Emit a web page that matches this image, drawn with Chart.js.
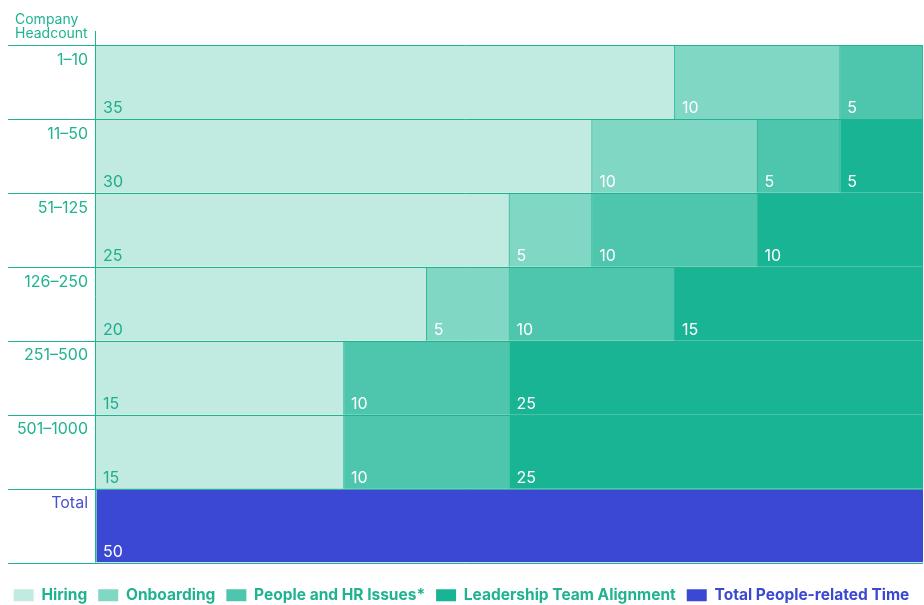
<!DOCTYPE html>
<html>
<head>
<meta charset="utf-8">
<script src="https://cdn.jsdelivr.net/npm/chart.js@4"></script>
<style>
html,body{margin:0;padding:0;background:#fff;}
#wrap{width:924px;height:605px;position:relative;}
</style>
</head>
<body>
<div id="wrap"><canvas id="c"></canvas></div>
<script>
const categories = ['1–10', '11–50', '51–125', '126–250', '251–500', '501–1000', 'Total'];
const seriesNames = ['Hiring', 'Onboarding', 'People and HR Issues*', 'Leadership Team Alignment', 'Total People-related Time'];
const hiring      = [35, 30, 25, 20, 15, 15, 0];
const onboarding  = [10, 10, 5, 5, 0, 0, 0];
const peopleHR    = [5, 5, 10, 10, 10, 10, 0];
const leadership  = [0, 5, 10, 15, 25, 25, 0];
const totalTime   = [0, 0, 0, 0, 0, 0, 50];
const titleLines  = ['Company', 'Headcount'];

const TEAL = '#1fb391';
const BLUE = '#3a48d4';
const fills = ['#c1eae1', '#80d7c4', '#4ec5ad', '#19b493', BLUE];
const labelColors = ['#1fae8d', '#ffffff', '#ffffff', '#ffffff', '#ffffff'];
const legendText = [TEAL, TEAL, TEAL, TEAL, BLUE];
const FONT = 'Inter, "Liberation Sans", sans-serif';

const seriesData = [hiring, onboarding, peopleHR, leadership, totalTime];

const datasets = seriesData.map((d, i) => ({
  label: seriesNames[i],
  data: d,
  backgroundColor: fills[i],
  borderColor: i === 4 ? BLUE : TEAL,
  borderWidth: {top: 0, bottom: 0, left: 0, right: 1},
  borderSkipped: false,
  barPercentage: 1,
  categoryPercentage: 1
}));

const decor = {
  id: 'decor',
  beforeDraw(chart) {
    const ctx = chart.ctx;
    ctx.save();
    ctx.font = '14px ' + FONT;
    ctx.fillStyle = TEAL;
    ctx.textAlign = 'left';
    ctx.textBaseline = 'alphabetic';
    titleLines.forEach((t, i) => ctx.fillText(t, 15, 24 + i * 14));
    ctx.restore();
  },
  afterDatasetsDraw(chart) {
    const ctx = chart.ctx;
    const y = chart.scales.y;
    const area = chart.chartArea;
    ctx.save();
    ctx.font = '16px ' + FONT;
    ctx.textAlign = 'left';
    ctx.textBaseline = 'alphabetic';
    chart.data.datasets.forEach((ds, di) => {
      const meta = chart.getDatasetMeta(di);
      meta.data.forEach((el, idx) => {
        const v = ds.data[idx];
        if (!v) return;
        const left = Math.min(el.x, el.base);
        const bottom = el.y + el.height / 2;
        ctx.fillStyle = labelColors[di];
        ctx.fillText(String(v), left + 7, bottom - 6);
      });
    });
    ctx.strokeStyle = TEAL;
    ctx.lineWidth = 1;
    ctx.beginPath();
    for (let i = 0; i <= categories.length; i++) {
      const py = Math.round(y.getPixelForValue(i - 0.5)) + 0.5;
      ctx.moveTo(8, py);
      ctx.lineTo(area.right, py);
    }
    const px = Math.round(area.left) - 0.5;
    ctx.moveTo(px, 31);
    ctx.lineTo(px, area.bottom);
    ctx.stroke();
    ctx.restore();
  }
};

new Chart(document.getElementById('c'), {
  type: 'bar',
  data: {labels: categories, datasets},
  plugins: [decor],
  options: {
    indexAxis: 'y',
    responsive: true,
    maintainAspectRatio: false,
    animation: false,
    layout: {padding: {left: 0, right: 1, top: 45, bottom: -8}},
    scales: {
      x: {
        stacked: true, min: 0, max: 50,
        grid: {display: false, drawTicks: false},
        border: {display: false},
        ticks: {display: false},
        afterFit(s) { s.height = 14; }
      },
      y: {
        stacked: true,
        grid: {display: false, drawTicks: false},
        border: {display: false},
        ticks: {
          padding: 8,
          labelOffset: -22,
          font: {family: FONT, size: 16},
          color: (c) => (c.index === categories.length - 1 ? '#4b50d1' : TEAL)
        },
        afterFit(s) { s.width = 96; }
      }
    },
    plugins: {
      title: {display: false},
      legend: {
        position: 'bottom',
        align: 'center',
        labels: {
          boxWidth: 20,
          boxHeight: 12,
          padding: 11,
          font: {family: FONT, size: 15.5, weight: 'bold'},
          generateLabels(chart) {
            return chart.data.datasets.map((ds, i) => ({
              text: ds.label,
              fillStyle: fills[i],
              strokeStyle: fills[i],
              lineWidth: 0,
              fontColor: legendText[i],
              hidden: false,
              datasetIndex: i
            }));
          }
        }
      },
      tooltip: {enabled: false}
    }
  }
});
</script>
</body>
</html>
